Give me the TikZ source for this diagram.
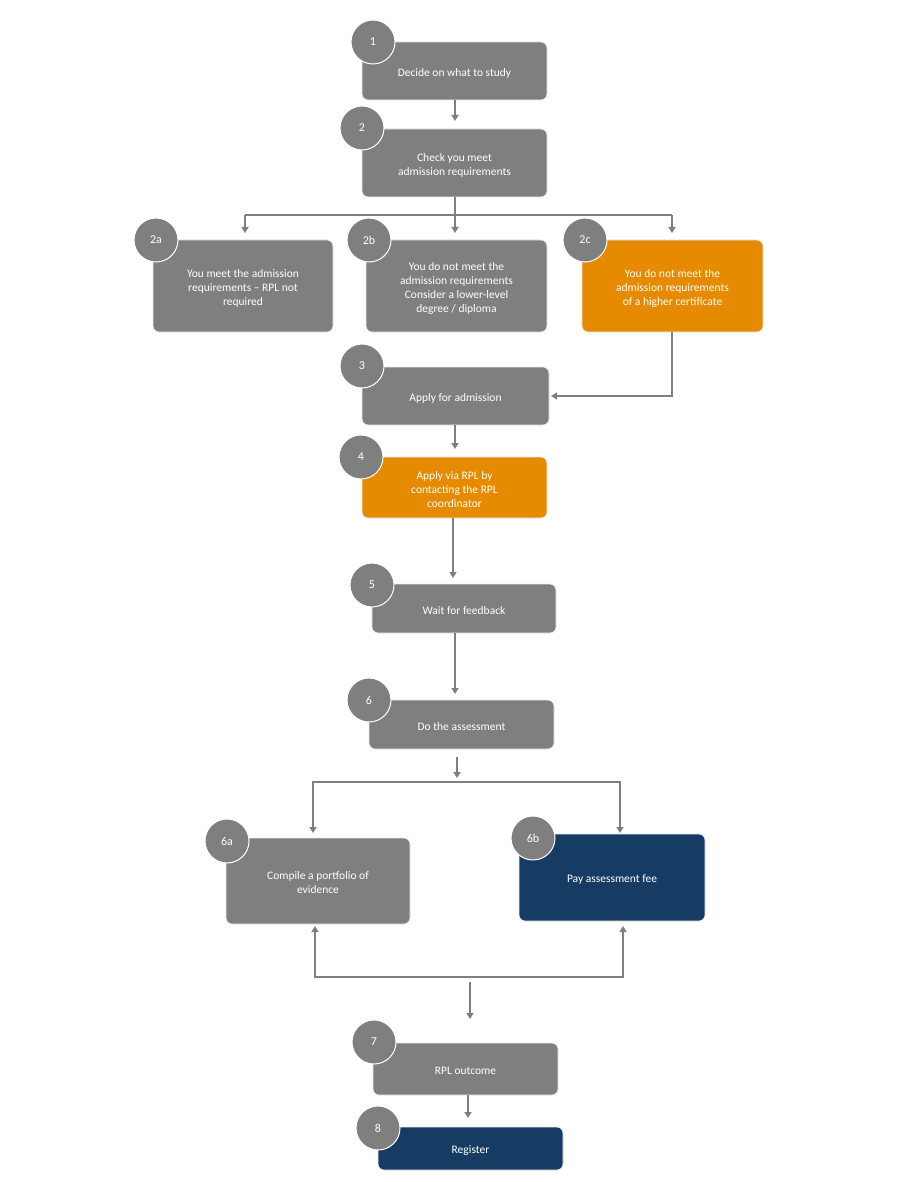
\documentclass[tikz,border=0pt]{standalone}
\usepackage{fontspec}
\setmainfont{Carlito}
\usetikzlibrary{arrows.meta}
\definecolor{gbox}{HTML}{7F7F7F}
\definecolor{obox}{HTML}{E68A00}
\definecolor{nbox}{HTML}{173C63}
\definecolor{lnc}{HTML}{7F7F7F}
\begin{document}
\begin{tikzpicture}[x=1pt,y=-1pt,
  box/.style={draw=white!85!gray,line width=0.8pt,rounded corners=6pt,fill=gbox},
  txt/.style={text=white,align=center,font=\fontsize{11.5}{14}\selectfont},
  num/.style={circle,fill=gbox,draw=white,line width=1pt,minimum size=44pt,inner sep=0pt,text=white,font=\fontsize{12}{14}\selectfont},
  ar/.style={draw=lnc,line width=1.6pt,-{Triangle[length=6pt,width=7pt]}},
  ln/.style={draw=lnc,line width=1.6pt}]
\useasboundingbox (0,0) rectangle (913,1182);
\fill[white] (0,0) rectangle (913,1182);
% boxes
\newcommand{\mybox}[7]{%
  \path[box,fill=#6] (#1,#2) rectangle (#3,#4);
  \node[txt] (#5) at ({(#1+#3)/2},{(#2+#4)/2+2}) {#7};}
\mybox{362}{42}{547}{100}{b1}{gbox}{Decide on what to study}
\mybox{362}{129}{547}{197}{b2}{gbox}{Check you meet\\admission requirements}
\mybox{153}{240}{333}{332}{b2a}{gbox}{You meet the admission\\requirements – RPL not\\required}
\mybox{366}{240}{547}{332}{b2b}{gbox}{You do not meet the\\admission requirements\\Consider a lower-level\\degree / diploma}
\mybox{582}{240}{763}{332}{b2c}{obox}{You do not meet the\\admission requirements\\of a higher certificate}
\mybox{362}{367}{549}{425}{b3}{gbox}{Apply for admission}
\mybox{362}{457}{547}{518}{b4}{obox}{Apply via RPL by\\contacting the RPL\\coordinator}
\mybox{372}{584}{556}{633}{b5}{gbox}{Wait for feedback}
\mybox{369}{700}{554}{749}{b6}{gbox}{Do the assessment}
\mybox{226}{838}{410}{924}{b6a}{gbox}{Compile a portfolio of\\evidence}
\mybox{519}{834}{705}{921}{b6b}{nbox}{Pay assessment fee}
\mybox{373}{1043}{558}{1095}{b7}{gbox}{RPL outcome}
\mybox{378}{1127}{563}{1170}{b8}{nbox}{Register}
% numbers
\node[num] (n1) at (373,42) {1};
\node[num] (n2) at (362,128) {2};
\node[num] (n2a) at (156,240) {2a};
\node[num] (n2b) at (369,240) {2b};
\node[num] (n2c) at (585,240) {2c};
\node[num] (n3) at (362,366) {3};
\node[num] (n4) at (361,457) {4};
\node[num] (n5) at (372,585) {5};
\node[num] (n6) at (369,700) {6};
\node[num] (n6a) at (227,841) {6a};
\node[num] (n6b) at (533,838) {6b};
\node[num] (n7) at (374,1042) {7};
\node[num] (n8) at (378,1128) {8};
% connectors
\coordinate (s2) at (455,197);
\coordinate (j2) at (455,215);
\coordinate (ja) at (245,215);
\coordinate (jc) at (672,215);
\draw[ar] (455,100) -- (455,121);
\draw[ln] (s2) -- (j2);
\draw[ln] (ja) -- (jc);
\draw[ar] (ja) -- (245,233);
\draw[ar] (j2) -- (455,233);
\draw[ar] (jc) -- (672,233);
\draw[ar] (672,332) |- (551,396);
\draw[ar] (455,425) -- (455,449);
\draw[ar] (453,518) -- (453,578);
\draw[ar] (455,633) -- (455,694);
\draw[ar] (457,757) -- (457,778);
\draw[ln] (313,782) -- (620,782);
\draw[ar] (313,781) -- (313,833);
\draw[ar] (620,781) -- (620,833);
\draw[ln] (315,977) -- (623,977);
\draw[ar] (315,978) -- (315,926);
\draw[ar] (623,978) -- (623,926);
\draw[ar] (470,982) -- (470,1019);
\draw[ar] (468,1095) -- (468,1118);
\end{tikzpicture}
\end{document}
